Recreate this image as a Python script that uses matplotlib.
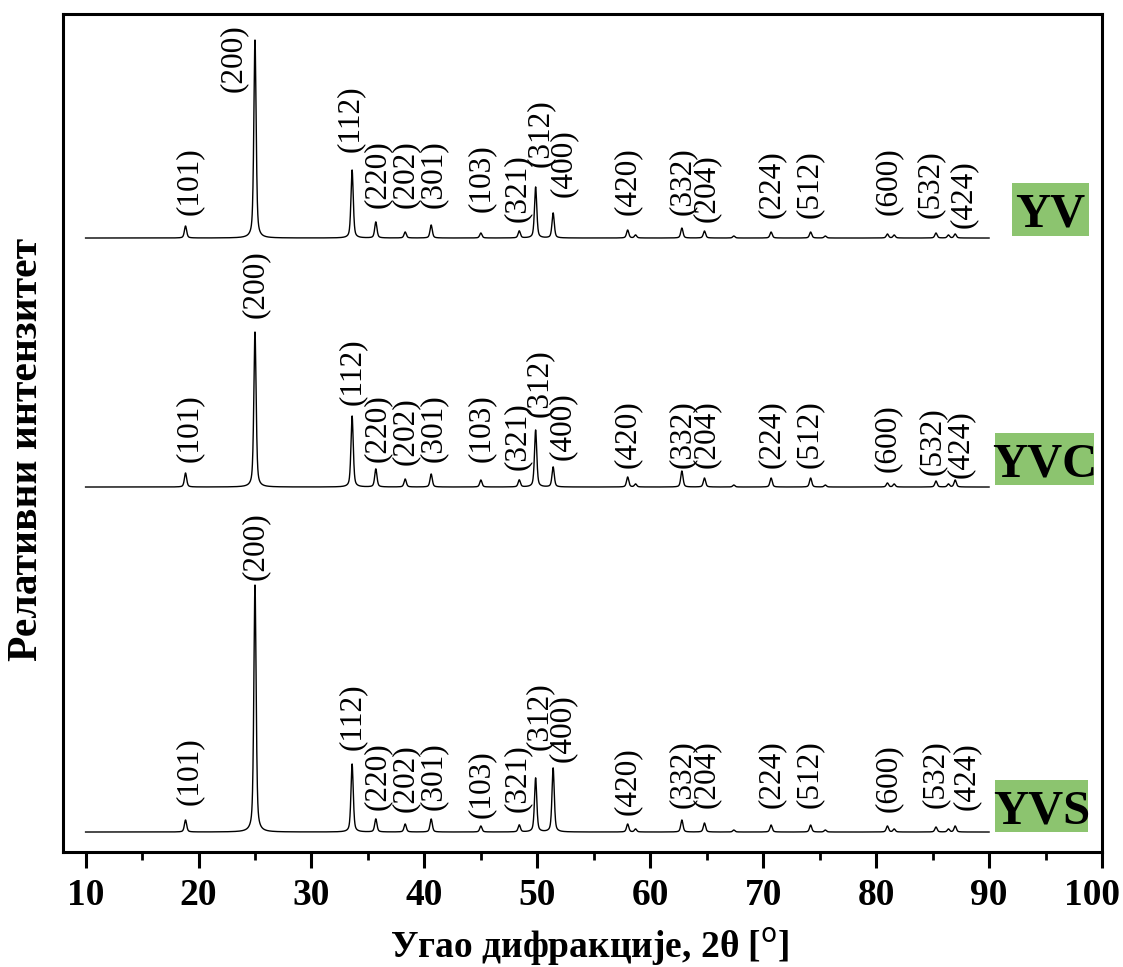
import numpy as np
import matplotlib
matplotlib.use('Agg')
from matplotlib import pyplot as plt
from matplotlib.patches import Rectangle
from matplotlib.transforms import ScaledTranslation

# peak indices and positions (2theta, deg)
hkl = ['(101)', '(200)', '(112)', '(220)', '(202)', '(301)', '(103)', '(321)', '(312)',
       '(400)', '(420)', '(332)', '(204)', '(224)', '(512)', '(600)', '(532)', '(424)']
peak_pos = [18.85, 25.0, 33.6, 35.7, 38.3, 40.6, 45.0, 48.4, 49.85,
            51.4, 58.0, 62.8, 64.8, 70.7, 74.2, 81.0, 85.3, 87.0]

# peak heights (arbitrary units)
yv_int = [12, 198, 68, 16, 6, 13, 5, 7, 51, 25, 8, 10, 7, 6, 6, 4, 5, 4]
yvc_int = [14, 155, 71, 18, 8, 13, 7, 7, 57, 20, 10, 16, 9, 9, 9, 4, 6, 7]
yvs_int = [12, 247, 68, 13, 8, 13, 6, 7, 54, 64, 8, 12, 9, 7, 7, 6, 5, 6]

# small unlabelled reflections
minor_pos = [58.7, 67.4, 75.5, 81.6, 86.4]
yv_minor = [3, 2, 2, 3, 3]
yvc_minor = [3, 2, 2, 3, 3]
yvs_minor = [3, 2, 2, 3, 3]

samples = ['YV', 'YVC', 'YVS']

# label placement (2theta of label, height of label bottom above baseline)
yv_lab_x = [19.2, 23.1, 33.4, 35.8, 38.3, 40.8, 45.0, 48.2, 50.3, 52.3, 58.0, 62.8, 65.0, 70.7, 74.1, 81.1, 84.8, 87.7]
yv_lab_y = [23, 146, 86, 30, 30, 30, 26, 16, 71, 41, 23, 23, 16, 20, 20, 23, 20, 10]
yvc_lab_x = [19.2, 25.0, 33.6, 35.8, 38.3, 40.8, 45.0, 48.2, 50.2, 52.2, 58.0, 62.8, 65.0, 70.7, 74.1, 81.0, 85.0, 87.5]
yvc_lab_y = [25, 169, 82, 25, 22, 25, 25, 17, 70, 27, 19, 19, 19, 19, 19, 15, 12, 9]
yvs_lab_x = [19.2, 25.0, 33.6, 35.8, 38.3, 40.8, 45.0, 48.2, 50.2, 52.2, 58.0, 62.8, 65.0, 70.7, 74.1, 81.1, 85.2, 88.0]
yvs_lab_y = [27, 252, 82, 22, 20, 22, 14, 20, 82, 70, 17, 24, 24, 24, 24, 20, 24, 22]

offsets = [614, 365, 20]
boxes = [(92.0, 616, 6.85, 53), (90.5, 367, 8.8, 52), (90.5, 20, 8.3, 52)]


def pattern(x, pos, amp, fwhm=0.24, eta=0.5):
    y = np.zeros_like(x)
    for p, a in zip(pos, amp):
        d = (x - p) / (fwhm / 2)
        y += a * (eta / (1 + d ** 2) + (1 - eta) * np.exp(-np.log(2) * d ** 2))
    return y


plt.rcParams['font.family'] = ['Liberation Serif', 'DejaVu Serif']

fig = plt.figure(figsize=(11.23, 9.67), dpi=100)
ax = fig.add_axes([0.0561, 0.1189, 0.9252, 0.8666])

x = np.linspace(10, 90, 8001)
data = [(yv_int, yv_minor, yv_lab_x, yv_lab_y),
        (yvc_int, yvc_minor, yvc_lab_x, yvc_lab_y),
        (yvs_int, yvs_minor, yvs_lab_x, yvs_lab_y)]

for (amp, mamp, lx, ly), off, name, bx in zip(data, offsets, samples, boxes):
    y = pattern(x, peak_pos + minor_pos, amp + mamp)
    ax.plot(x, y + off, color='black', lw=1.0)
    for lab, xx, yy in zip(hkl, lx, ly):
        ax.text(xx, off + yy, lab, rotation=90, ha='center', va='bottom', fontsize=22.5)
    ax.add_patch(Rectangle((bx[0], bx[1]), bx[2], bx[3], facecolor='#8cc46f', edgecolor='none'))
    ax.text(bx[0] + bx[2] / 2, bx[1] + bx[3] / 2, name, ha='center', va='center_baseline',
            fontsize=35, fontweight='bold')

ax.set_xlim(8, 100)
ax.set_ylim(0, 838)
ax.set_yticks([])
ax.set_xticks(np.arange(10, 101, 10))
ax.set_xticks(np.arange(15, 100, 10), minor=True)
ax.tick_params(axis='x', which='major', direction='out', length=11.5, width=2.2, pad=7, labelsize=27)
ax.tick_params(axis='x', which='minor', direction='out', length=6, width=2.0)
ticklabs = ax.get_xticklabels()
for lab in ticklabs:
    lab.set_fontweight('bold')
# last label pulled in slightly so it stays inside the canvas
ticklabs[-1].set_transform(ticklabs[-1].get_transform() + ScaledTranslation(-0.1, 0, fig.dpi_scale_trans))
for sp in ax.spines.values():
    sp.set_linewidth(2.2)

ax.set_xlabel('Угао дифракције, 2θ [$^\\mathrm{o}$]', fontsize=27, fontweight='bold')
ax.set_ylabel('Релативни интензитет', fontsize=30, fontweight='bold')
ax.xaxis.set_label_coords(0.507, -0.088)
ax.yaxis.set_label_coords(-0.016, 0.481)

fig.savefig('out.png', dpi=100)
